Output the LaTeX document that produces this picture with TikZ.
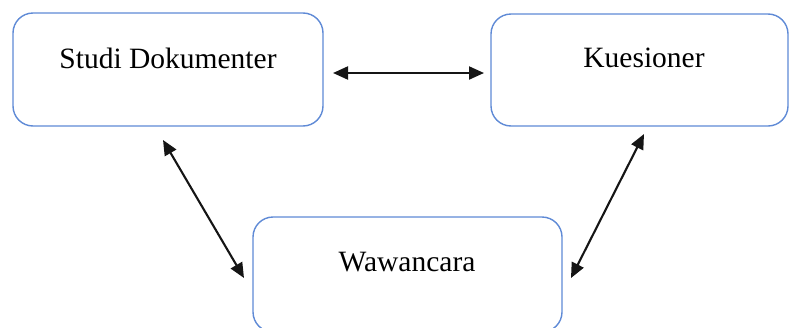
\documentclass[tikz,border=0pt]{standalone}
\usepackage{fontspec}
\setmainfont{Liberation Serif}
\usetikzlibrary{arrows.meta}
\definecolor{boxblue}{HTML}{5F8AD6}
\definecolor{arrowgray}{HTML}{151515}
\begin{document}
\begin{tikzpicture}[x=1pt,y=-1pt,
  methodbox/.style={draw=boxblue, line width=1.4pt, rounded corners=20pt, fill=white},
  label/.style={font=\fontsize{29.5}{35}\selectfont, anchor=base, inner sep=0pt},
  link/.style={draw=arrowgray, line width=2.1pt,
    {Triangle[length=15pt,width=13pt]}-{Triangle[length=15pt,width=13pt]}}]
  \useasboundingbox (0,0) rectangle (790,327);
  % boxes
  \draw[methodbox] (13,13) rectangle (323,126) node[pos=0.5] (studi) {};
  \draw[methodbox] (491,14) rectangle (788,126) node[pos=0.5] (kues) {};
  \draw[methodbox] (253,217) rectangle (562,332) node[pos=0.5] (wawan) {};
  % labels
  \node[label] (tstudi) at (168,68) {Studi Dokumenter};
  \node[label] (tkues) at (644,67) {Kuesioner};
  \node[label] (twawan) at (407,271) {Wawancara};
  % connector ends
  \coordinate (hA) at (333,73);
  \coordinate (hB) at (484,73);
  \coordinate (lA) at (163,140);
  \coordinate (lB) at (244,278);
  \coordinate (rA) at (644,134);
  \coordinate (rB) at (571,278);
  % connectors
  \draw[link] (hA) -- (hB);
  \draw[link] (lA) -- (lB);
  \draw[link] (rA) -- (rB);
\end{tikzpicture}
\end{document}
